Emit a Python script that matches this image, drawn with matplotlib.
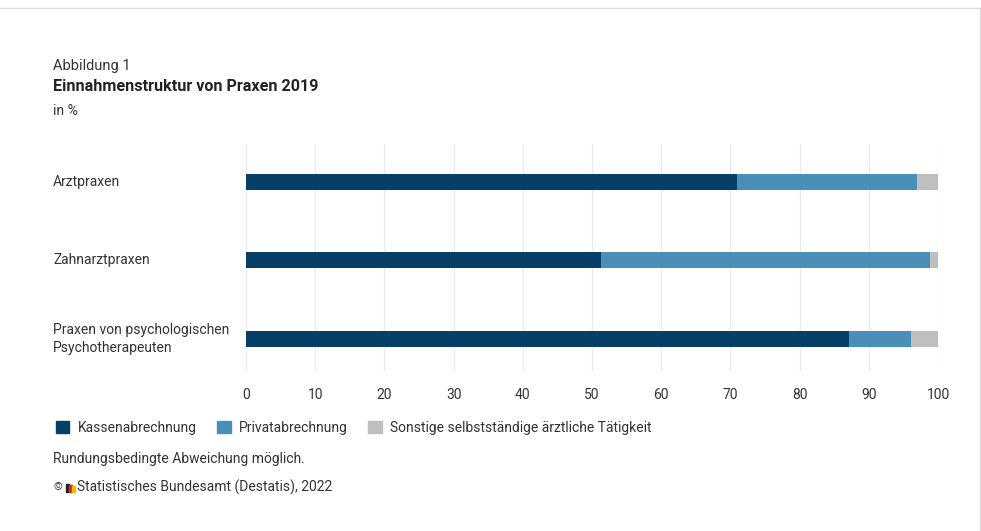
import matplotlib.pyplot as plt
import matplotlib.patches as mpatches
from matplotlib.transforms import blended_transform_factory
import numpy as np

plt.rcParams['font.family'] = ['Roboto', 'DejaVu Sans']

categories = ['Arztpraxen', 'Zahnarztpraxen', 'Praxen von psychologischen\nPsychotherapeuten']
series_names = ['Kassenabrechnung', 'Privatabrechnung', 'Sonstige selbstständige ärztliche Tätigkeit']
kasse = [71.0, 51.3, 87.1]
privat = [26.0, 47.6, 9.0]
sonstige = [3.0, 1.1, 3.9]
xticks = [0, 10, 20, 30, 40, 50, 60, 70, 80, 90, 100]

colors = ['#073f66', '#4a8fb7', '#bfbfbf']
text_col = '#333333'

W, H = 981, 531
fig = plt.figure(figsize=(W / 100, H / 100), dpi=100)
ax = fig.add_axes([246 / W, 1 - 371 / H, (938 - 246) / W, (371 - 144) / H])

y = np.arange(len(categories))
left = np.zeros(len(categories))
for vals, col, name in zip([kasse, privat, sonstige], colors, series_names):
    ax.barh(y, vals, left=left, height=0.204, color=col, label=name, zorder=3)
    left += np.array(vals)

ax.set_xlim(0, 100)
ax.set_ylim(2.41, -0.485)
ax.set_xticks(xticks)
ax.set_xticklabels([str(t) for t in xticks], fontsize=10, color=text_col)
ax.tick_params(axis='x', length=0, pad=12)
ax.set_yticks([])
ax.grid(axis='x', color='#ebebeb', linewidth=1, zorder=0)
for s in ax.spines.values():
    s.set_visible(False)

# category labels, left aligned at figure margin
tr = blended_transform_factory(fig.transFigure, ax.transData)
for yi, cat in zip(y, categories):
    ax.text(53 / W, yi, cat, transform=tr, ha='left', va='center',
            fontsize=10, color=text_col, linespacing=1.4)

# header
fig.text(53 / W, 1 - 66 / H, 'Abbildung 1', fontsize=10.5, color=text_col, va='center')
fig.text(53 / W, 1 - 87 / H, 'Einnahmenstruktur von Praxen 2019', fontsize=11.6,
         fontweight='bold', color='#222222', va='center')
fig.text(53 / W, 1 - 111 / H, 'in %', fontsize=10, color=text_col, va='center')

# legend
handles = [mpatches.Patch(color=c, label=n) for c, n in zip(colors, series_names)]
fig.legend(handles=handles, loc='center left', bbox_to_anchor=(43 / W, 1 - 428 / H),
           ncol=3, frameon=False, fontsize=10, handlelength=1.0, handleheight=1.0,
           handletextpad=0.6, columnspacing=1.45, labelcolor=text_col)

fig.text(53 / W, 1 - 459 / H, 'Rundungsbedingte Abweichung möglich.', fontsize=10,
         color=text_col, va='center')
fig.text(53 / W, 1 - 487 / H, '©', fontsize=8, color=text_col, va='center')
# small Destatis logo
for i, c in enumerate(['#222222', '#d9232a', '#f2b800']):
    fig.patches.append(mpatches.Rectangle(((66 + i * 3) / W, 1 - 492 / H), 2.5 / W, (8 - i) / H,
                                          transform=fig.transFigure, color=c))
fig.text(77 / W, 1 - 487 / H, 'Statistisches Bundesamt (Destatis), 2022', fontsize=10,
         color=text_col, va='center')

# card border
fig.add_artist(plt.Line2D([0, 1], [1 - 8 / H, 1 - 8 / H], transform=fig.transFigure,
                          color='#dddddd', linewidth=1))
fig.add_artist(plt.Line2D([1 - 1.5 / W, 1 - 1.5 / W], [0, 1 - 8 / H], transform=fig.transFigure,
                          color='#dddddd', linewidth=1))

fig.savefig('out.png', dpi=100)
